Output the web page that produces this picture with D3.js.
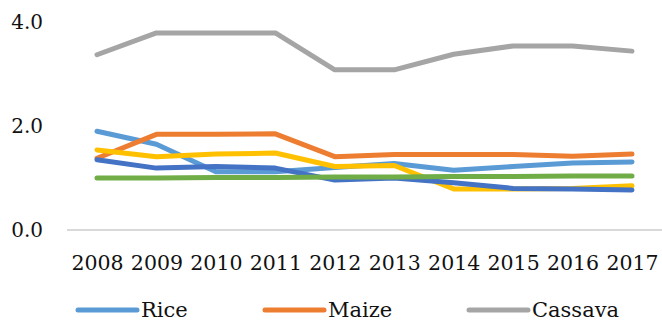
<!DOCTYPE html>
<html>
<head>
<meta charset="utf-8">
<script src="https://cdn.jsdelivr.net/npm/d3@7"></script>
<style>
  body { margin: 0; background: #fff; }
  svg text { font-family: "DejaVu Serif", serif; fill: #111; }
</style>
</head>
<body>
<svg id="chart" width="662" height="322"></svg>
<script>
// years on the x axis
var years = ["2008", "2009", "2010", "2011", "2012", "2013", "2014", "2015", "2016", "2017"];
var yTicks = [0, 2, 4];

// series values
var rice    = [1.90, 1.65, 1.12, 1.12, 1.20, 1.28, 1.15, 1.22, 1.29, 1.31];
var maize   = [1.38, 1.84, 1.84, 1.85, 1.41, 1.45, 1.45, 1.45, 1.42, 1.46];
var cassava = [3.37, 3.79, 3.79, 3.79, 3.08, 3.08, 3.38, 3.54, 3.54, 3.44];
var series4 = [1.54, 1.41, 1.46, 1.48, 1.22, 1.24, 0.79, 0.79, 0.80, 0.85];
var series5 = [1.35, 1.19, 1.22, 1.19, 0.96, 1.00, 0.91, 0.80, 0.79, 0.77];
var series6 = [1.00, 1.00, 1.01, 1.01, 1.02, 1.02, 1.03, 1.03, 1.04, 1.04];

var seriesValues = [rice, maize, cassava, series4, series5, series6];
var colors = ["#5B9BD5", "#ED7D31", "#A5A5A5", "#FFC000", "#4472C4", "#70AD47"];
var legendNames = ["Rice", "Maize", "Cassava"]; // only these fit in the picture

var svg = d3.select("#chart");

var x = d3.scalePoint()
    .domain(years)
    .range([97, 632]);

var y = d3.scaleLinear()
    .domain([0, 4])
    .range([230, 22]);

// baseline at zero
svg.append("line")
    .attr("x1", 67)
    .attr("x2", 662)
    .attr("y1", y(0))
    .attr("y2", y(0))
    .style("stroke", "#d9d9d9")
    .style("stroke-width", 2);

// y axis labels
var yAxis = svg.append("g")
    .attr("transform", "translate(44,0)")
    .call(d3.axisLeft(y).tickValues(yTicks).tickFormat(d3.format(".1f")).tickSize(0).tickPadding(1));
yAxis.select(".domain").remove();
yAxis.selectAll("text")
    .style("font-size", "20px")
    .attr("fill", "#111");

// x axis labels
var xAxis = svg.append("g")
    .attr("transform", "translate(0,255)")
    .call(d3.axisBottom(x).tickSize(0).tickPadding(0));
xAxis.select(".domain").remove();
xAxis.selectAll("text")
    .style("font-size", "20.5px")
    .attr("fill", "#111");

svg.selectAll("g").attr("font-family", null);

// series lines
var line = d3.line()
    .x(function (d, i) { return x(years[i]); })
    .y(function (d) { return y(d); });

svg.selectAll(".series")
    .data(seriesValues)
    .enter()
    .append("path")
    .attr("class", "series")
    .attr("d", line)
    .style("fill", "none")
    .style("stroke", function (d, i) { return colors[i]; })
    .style("stroke-width", 5)
    .style("stroke-linecap", "round")
    .style("stroke-linejoin", "round");

// legend
var legendX = [78, 265, 469];
var legend = svg.selectAll(".legend")
    .data(legendNames)
    .enter()
    .append("g")
    .attr("class", "legend")
    .attr("transform", function (d, i) { return "translate(" + legendX[i] + ",310)"; });

legend.append("line")
    .attr("x1", 0)
    .attr("x2", 59)
    .style("stroke", function (d, i) { return colors[i]; })
    .style("stroke-width", 5)
    .style("stroke-linecap", "round");

legend.append("text")
    .attr("x", 63)
    .attr("y", 7)
    .style("font-size", "21px")
    .text(function (d) { return d; });
</script>
</body>
</html>
